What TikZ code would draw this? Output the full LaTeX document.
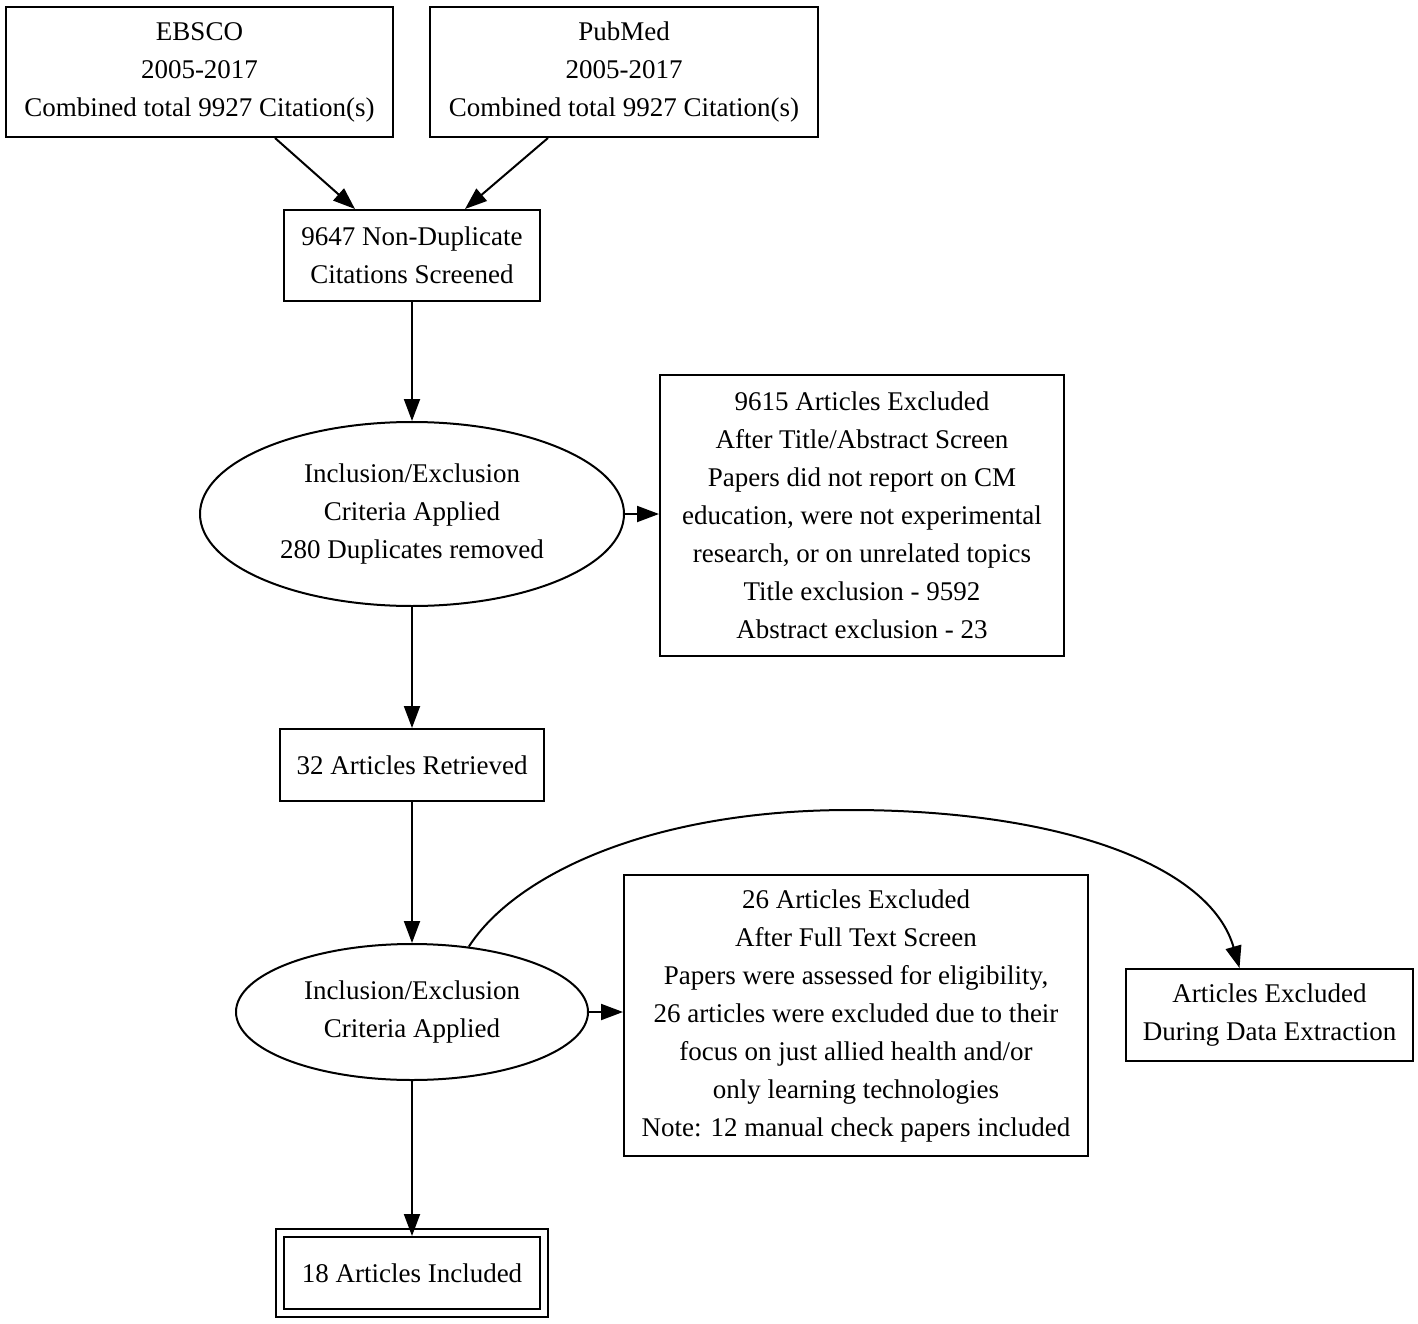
\documentclass[tikz,border=0pt]{standalone}
\usepackage{fontspec}
\setmainfont{Liberation Serif}
\usetikzlibrary{arrows.meta,shapes.geometric}
\begin{document}
\begin{tikzpicture}[x=1pt,y=-1pt,line width=2pt,
  >={Triangle[length=22pt,width=16pt]},
  every node/.style={font=\fontsize{27}{38}\selectfont},
  box/.style={draw,rectangle,align=center,inner sep=0pt},
  oval/.style={draw,ellipse,align=center,inner sep=0pt}]
\useasboundingbox (0,0) rectangle (1418,1324);
\fill[white] (0,0) rectangle (1418,1324);
\node[box,minimum width=387pt,minimum height=130pt] (ebsco) at (199.5,72) {EBSCO\\2005-2017\\Combined total 9927 Citation(s)};
\node[box,minimum width=388pt,minimum height=130pt] (pubmed) at (624,72) {PubMed\\2005-2017\\Combined total 9927 Citation(s)};
\node[box,minimum width=256pt,minimum height=91pt] (nondup) at (412,255.5) {9647 Non-Duplicate\\Citations Screened};
\node[oval,minimum width=424pt,minimum height=184pt] (e1) at (412,514) {Inclusion/Exclusion\\Criteria Applied\\280 Duplicates removed};
\node[box,minimum width=404pt,minimum height=281pt] (ex1) at (862,515.5) {9615 Articles Excluded\\After Title/Abstract Screen\\Papers did not report on CM\\education, were not experimental\\research, or on unrelated topics\\Title exclusion - 9592\\Abstract exclusion - 23};
\node[box,minimum width=264pt,minimum height=72pt] (ret) at (412,765) {32 Articles Retrieved};
\node[oval,minimum width=352pt,minimum height=136pt] (e2) at (412,1012) {Inclusion/Exclusion\\Criteria Applied};
\node[box,minimum width=464pt,minimum height=281pt] (ex2) at (856,1015.5) {26 Articles Excluded\\After Full Text Screen\\Papers were assessed for eligibility,\\26 articles were excluded due to their\\focus on just allied health and/or\\only learning technologies\\Note: 12 manual check papers included};
\node[box,minimum width=287pt,minimum height=92pt] (dx) at (1269.5,1015) {Articles Excluded\\During Data Extraction};
\node[box,double,double distance=6pt,minimum width=264pt,minimum height=80pt] (inc) at (412,1273) {18 Articles Included};
\draw[->] ([xshift=75.5pt]ebsco.south) -- ([xshift=-57pt]nondup.north);
\draw[->] ([xshift=-76pt]pubmed.south) -- ([xshift=53pt]nondup.north);
\draw[->] (nondup) -- (e1);
\draw[->] (e1.east) -- (e1.east -| ex1.west);
\draw[->] (e1) -- (ret);
\draw[->] (ret) -- (e2);
\draw[->] (e2.east) -- (e2.east -| ex2.west);
\draw[->] (e2) -- ([yshift=-4pt]inc.north);
\draw[->] (e2.49) .. controls (515,875) and (650,810) .. (850,810)
  .. controls (1060,810) and (1210,865) .. ([xshift=-30pt]dx.north);
\end{tikzpicture}
\end{document}
